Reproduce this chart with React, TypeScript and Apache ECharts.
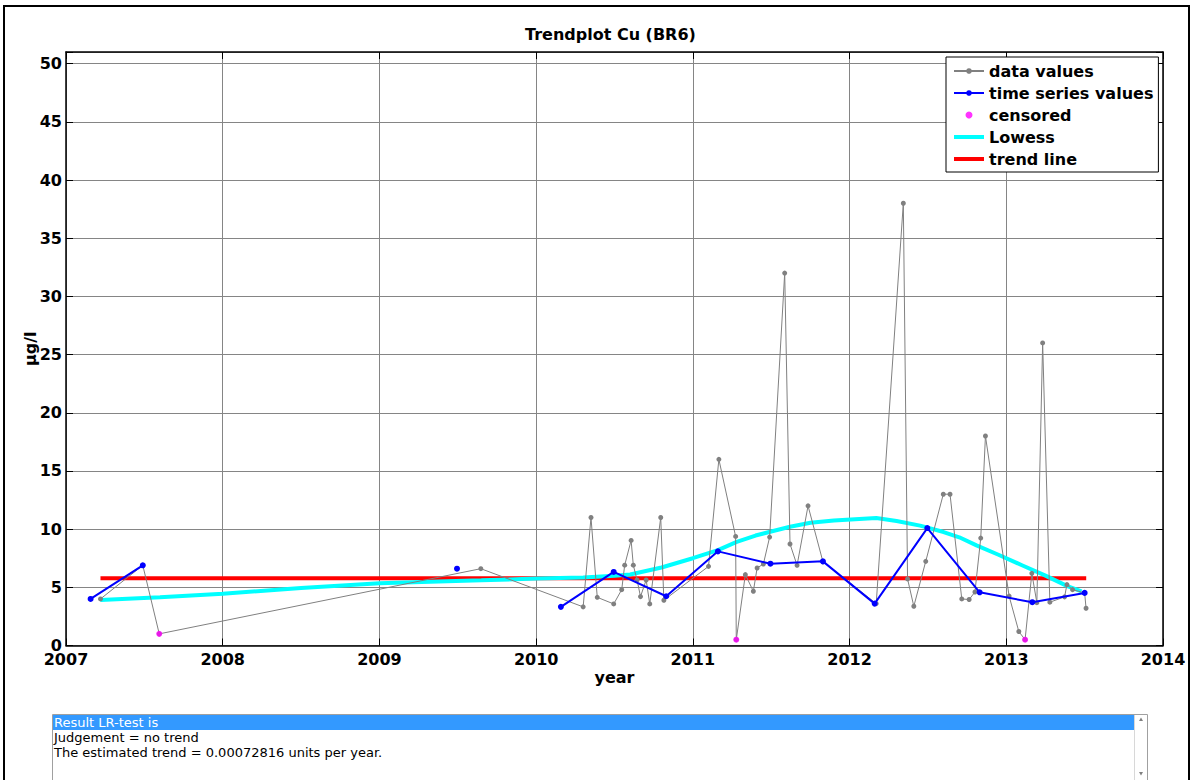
import React, { useEffect, useRef } from "react";
import * as echarts from "echarts";

// Axis ticks
const yearTicks = [2007, 2008, 2009, 2010, 2011, 2012, 2013, 2014];
const valueTicks = [0, 5, 10, 15, 20, 25, 30, 35, 40, 45, 50];

// Measured concentrations (decimal year, µg/l)
const dataYears = [
  2007.22, 2007.49, 2007.595, 2009.647, 2010.3, 2010.35, 2010.39, 2010.495, 2010.546, 2010.565,
  2010.606, 2010.62, 2010.644, 2010.666, 2010.702, 2010.725, 2010.795, 2010.815, 2011.1, 2011.166,
  2011.273, 2011.277, 2011.335, 2011.386, 2011.41, 2011.45, 2011.49, 2011.586, 2011.62, 2011.665,
  2011.735, 2011.83, 2012.17, 2012.343, 2012.37, 2012.41, 2012.486, 2012.598, 2012.641, 2012.716,
  2012.763, 2012.8, 2012.837, 2012.867, 2013.018, 2013.08, 2013.12, 2013.163, 2013.195, 2013.232,
  2013.278, 2013.372, 2013.387, 2013.423, 2013.5, 2013.509,
];
const dataValues = [
  4.0, 6.89, 1.0, 6.6, 3.32, 11.0, 4.14, 3.57, 4.8, 6.9,
  9.03, 6.9, 5.63, 4.2, 5.63, 3.57, 11.0, 3.89, 6.8, 16.0,
  9.37, 0.5, 6.09, 4.66, 6.66, 7.0, 9.32, 32.0, 8.72, 6.89,
  12.0, 7.2, 3.6, 38.0, 5.72, 3.37, 7.23, 13.0, 13.0, 4.0,
  3.95, 4.6, 9.23, 18.0, 4.25, 1.2, 0.5, 6.2, 3.68, 26.0,
  3.72, 4.18, 5.23, 4.8, 4.52, 3.2,
];

// Seasonal time series values; null marks a break in the line
const seriesYears = [
  2007.157, 2007.49, 2008.5, 2009.495, 2009.8, 2010.158, 2010.495, 2010.83, 2011.16, 2011.495,
  2011.83, 2012.16, 2012.496, 2012.83, 2013.166, 2013.5,
];
const seriesValues = [
  4.0, 6.89, null, 6.6, null, 3.32, 6.32, 4.23, 8.09, 7.03,
  7.23, 3.6, 10.09, 4.57, 3.72, 4.52,
];

// Values below the detection limit
const censoredYears = [2007.595, 2011.277, 2013.12];
const censoredValues = [1.0, 0.5, 0.5];

// Lowess smooth
const lowessYears = [
  2007.22, 2007.6, 2008.0, 2008.5, 2009.0, 2009.65, 2010.0, 2010.3, 2010.5, 2010.6,
  2010.8, 2011.0, 2011.16, 2011.28, 2011.4, 2011.5, 2011.62, 2011.75, 2011.9, 2012.17,
  2012.3, 2012.45, 2012.6, 2012.7, 2012.81, 2012.95, 2013.1, 2013.25, 2013.39, 2013.48,
];
const lowessValues = [
  3.9, 4.15, 4.45, 4.95, 5.35, 5.6, 5.75, 5.85, 6.0, 6.1,
  6.7, 7.5, 8.2, 8.9, 9.45, 9.8, 10.2, 10.55, 10.75, 10.95,
  10.7, 10.3, 9.75, 9.3, 8.6, 7.8, 6.9, 6.0, 5.1, 4.65,
];

// Estimated linear trend
const trendYears = [2007.22, 2013.51];
const trendValues = [5.775, 5.78];

const reportLines = [
  "Result LR-test is",
  "Judgement = no trend",
  "The estimated trend = 0.00072816 units per year.",
];

const FONT = "DejaVu Sans";
// thick bar used as the legend sample of the smooth and trend lines
const BAR_ICON = "path://M0,0H30V4H0Z";

const pairs = (xs: number[], ys: (number | null)[]) =>
  xs.map((x, i) => [x, ys[i] === null ? "-" : ys[i]]);

export default function App() {
  const ref = useRef<HTMLDivElement>(null);

  useEffect(() => {
    if (!ref.current) return;
    const chart = echarts.init(ref.current, undefined, { renderer: "svg" });

    const boldText = { color: "#000", fontWeight: "bold" as const, fontSize: 16, fontFamily: FONT };
    const yMin = valueTicks[0];
    const yStep = valueTicks[1] - valueTicks[0];
    const frameAxis = {
      axisLine: { show: true, onZero: false, lineStyle: { color: "#000", width: 1.5 } },
      axisTick: { show: true, inside: true, length: 7, lineStyle: { color: "#000" } },
    };

    chart.setOption({
      animation: false,
      backgroundColor: "#fff",
      title: {
        text: "Trendplot Cu (BR6)",
        left: 525,
        top: 26,
        padding: 0,
        textStyle: boldText,
      },
      grid: { left: 66, top: 52, width: 1097, height: 593.5, containLabel: false },
      legend: {
        data: [
          { name: "data values" },
          { name: "time series values" },
          { name: "censored" },
          { name: "Lowess", icon: BAR_ICON },
          { name: "trend line", icon: BAR_ICON },
        ],
        orient: "vertical",
        left: 946,
        top: 57,
        padding: [6, 5, 5, 7],
        itemWidth: 30,
        itemHeight: 7,
        itemGap: 6,
        backgroundColor: "#fff",
        borderColor: "#000",
        borderWidth: 1,
        borderRadius: 0,
        textStyle: boldText,
        selectedMode: false,
      },
      xAxis: [
        {
          type: "value",
          min: yearTicks[0],
          max: yearTicks[yearTicks.length - 1],
          interval: yearTicks[1] - yearTicks[0],
          position: "bottom",
          name: "year",
          nameLocation: "middle",
          nameGap: 24,
          nameMoveOverlap: false,
          nameTextStyle: boldText,
          ...frameAxis,
          axisLabel: { ...boldText, lineHeight: 12, margin: 8, formatter: (v: number) => String(v) },
          splitLine: { show: true, lineStyle: { color: "#858585", width: 1 } },
        },
        {
          type: "value",
          min: yearTicks[0],
          max: yearTicks[yearTicks.length - 1],
          interval: yearTicks[1] - yearTicks[0],
          position: "top",
          ...frameAxis,
          axisLabel: { show: false },
          splitLine: { show: false },
        },
      ],
      yAxis: [
        {
          type: "value",
          min: yMin,
          max: 51,
          interval: yStep,
          position: "left",
          name: "µg/l",
          nameLocation: "middle",
          nameGap: 28,
          nameMoveOverlap: false,
          nameRotate: 90,
          nameTextStyle: boldText,
          ...frameAxis,
          axisLabel: {
            ...boldText,
            lineHeight: 12,
            margin: 4,
            formatter: (v: number) => (valueTicks.includes(v) ? String(v) : ""),
          },
          splitLine: { show: true, lineStyle: { color: "#858585", width: 1 } },
        },
        {
          type: "value",
          min: yMin,
          max: 51,
          interval: yStep,
          position: "right",
          ...frameAxis,
          axisLabel: { show: false },
          splitLine: { show: false },
        },
      ],
      series: [
        {
          name: "trend line",
          type: "line",
          data: pairs(trendYears, trendValues),
          symbol: "none",
          lineStyle: { color: "#ff0000", width: 4 },
          itemStyle: { color: "#ff0000" },
          z: 2,
        },
        {
          name: "Lowess",
          type: "line",
          data: pairs(lowessYears, lowessValues),
          symbol: "none",
          lineStyle: { color: "#00ffff", width: 4 },
          itemStyle: { color: "#00ffff" },
          z: 3,
        },
        {
          name: "data values",
          type: "line",
          data: pairs(dataYears, dataValues),
          symbol: "circle",
          symbolSize: 5,
          showSymbol: true,
          lineStyle: { color: "#808080", width: 1 },
          itemStyle: { color: "#808080" },
          z: 4,
        },
        {
          name: "time series values",
          type: "line",
          data: pairs(seriesYears, seriesValues),
          symbol: "circle",
          symbolSize: 6,
          showSymbol: true,
          connectNulls: false,
          lineStyle: { color: "#0000ff", width: 2 },
          itemStyle: { color: "#0000ff" },
          z: 5,
        },
        {
          name: "censored",
          type: "scatter",
          data: pairs(censoredYears, censoredValues),
          symbol: "circle",
          symbolSize: 6,
          itemStyle: { color: "#ff00ff" },
          z: 6,
        },
      ],
      graphic: [
        {
          type: "rect",
          silent: true,
          shape: { x: 4, y: 6, width: 1185, height: 800 },
          style: { fill: "none", stroke: "#000", lineWidth: 2 },
        },
        {
          type: "group",
          silent: true,
          children: [
            {
              type: "rect",
              shape: { x: 52.5, y: 714.5, width: 1095, height: 80 },
              style: { fill: "#fff", stroke: "#a0a0a0", lineWidth: 1 },
            },
            {
              type: "rect",
              shape: { x: 53, y: 715, width: 1081, height: 15 },
              style: { fill: "#3399ff" },
            },
            {
              type: "line",
              shape: { x1: 1134.5, y1: 715, x2: 1134.5, y2: 780 },
              style: { stroke: "#d8d8d8", lineWidth: 1 },
            },
            {
              type: "polygon",
              shape: { points: [[1139, 721], [1143, 721], [1141, 717.5]] },
              style: { fill: "#808080" },
            },
            {
              type: "polygon",
              shape: { points: [[1139, 772], [1143, 772], [1141, 775.5]] },
              style: { fill: "#808080" },
            },
            ...reportLines.map((line, i) => ({
              type: "text",
              x: 54,
              y: 722.5 + i * 15,
              style: {
                text: line,
                fill: i === 0 ? "#fff" : "#000",
                font: "13px 'DejaVu Sans'",
                textVerticalAlign: "middle",
              },
            })),
          ],
        },
      ],
    });

    return () => chart.dispose();
  }, []);

  return (
    <div
      ref={ref}
      style={{ position: "absolute", left: 0, top: 0, width: 1192, height: 780, background: "#fff" }}
    />
  );
}
